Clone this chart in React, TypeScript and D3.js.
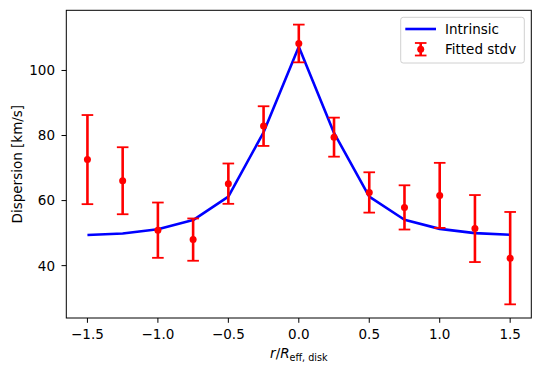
import React from 'react'
import * as d3 from 'd3'

// radius in units of the disk effective radius
const radii = [-1.5, -1.25, -1.0, -0.75, -0.5, -0.25, 0, 0.25, 0.5, 0.75, 1.0, 1.25, 1.5]
// intrinsic dispersion model [km/s]
const intrinsic = [49.4, 49.9, 51.2, 54.0, 61.2, 81.0, 107.3, 80.8, 61.2, 54.1, 51.3, 50.0, 49.5]
// fitted stdv and its error [km/s]
const fitted = [72.6, 66.1, 50.9, 48.0, 65.2, 82.9, 108.3, 79.5, 62.5, 57.9, 61.6, 51.4, 42.3]
const fittedErr = [13.7, 10.3, 8.5, 6.5, 6.2, 6.1, 5.8, 6.0, 6.2, 6.8, 10.0, 10.3, 14.2]

const xTicks = [-1.5, -1.0, -0.5, 0.0, 0.5, 1.0, 1.5]
const yTicks = [40, 60, 80, 100]

const W = 540, H = 374
const left = 66.3, right = 531.3, top = 10.3, bottom = 318
const font = 'DejaVu Sans, sans-serif'
const fs = 13.5

export default function App() {
    const x = d3.scaleLinear().domain([-1.65, 1.65]).range([left, right])
    const y = d3.scaleLinear().domain([23.9, 118.5]).range([bottom, top])

    const line = d3.line<number>()
        .x((d, i) => x(radii[i]))
        .y(d => y(d))

    const cap = 5.8
    const red = '#ff0000'
    const blue = '#0000ff'

    return <svg width={W} height={H} style={{position: 'absolute', left: 0, top: 0, background: '#fff'}} fontFamily={font}>
        <rect x={0} y={0} width={W} height={H} fill="#fff" />

        {/* data */}
        <path d={line(intrinsic) || ''} fill="none" stroke={blue} strokeWidth={2.6} strokeLinejoin="round" />
        <g>
            {fitted.map((v, i) => {
                const cx = x(radii[i])
                const y1 = y(v + fittedErr[i]), y2 = y(v - fittedErr[i])
                return <g key={i}>
                    <line x1={cx} x2={cx} y1={y1} y2={y2} stroke={red} strokeWidth={2.6} />
                    <line x1={cx - cap} x2={cx + cap} y1={y1} y2={y1} stroke={red} strokeWidth={1.8} />
                    <line x1={cx - cap} x2={cx + cap} y1={y2} y2={y2} stroke={red} strokeWidth={1.8} />
                    <circle cx={cx} cy={y(v)} r={3.5} fill={red} />
                </g>
            })}
        </g>

        {/* frame */}
        <rect x={left} y={top} width={right - left} height={bottom - top} fill="none" stroke="#000" strokeWidth={1} />

        {/* x axis */}
        <g>
            {xTicks.map(d => <g key={d}>
                <line x1={x(d)} x2={x(d)} y1={bottom} y2={bottom + 4.8} stroke="#000" strokeWidth={1} />
                <text x={x(d)} y={bottom + 20.5} fontSize={fs} textAnchor="middle" fill="#000">{d3.format('.1f')(d).replace('-', '\u2212')}</text>
            </g>)}
            <text x={x(0)} y={358.3} fontSize={fs} textAnchor="middle" fill="#000">
                <tspan fontStyle="italic">r</tspan>
                <tspan>/</tspan>
                <tspan fontStyle="italic">R</tspan>
                <tspan fontSize={9.6} dy={2.2}>eff, disk</tspan>
            </text>
        </g>

        {/* y axis */}
        <g>
            {yTicks.map(d => <g key={d}>
                <line x1={left - 4.8} x2={left} y1={y(d)} y2={y(d)} stroke="#000" strokeWidth={1} />
                <text x={left - 11.3} y={y(d) + 4.9} fontSize={fs} textAnchor="end" fill="#000">{d}</text>
            </g>)}
            <text transform={`translate(21.5, ${(top + bottom) / 2}) rotate(-90)`} fontSize={fs} textAnchor="middle" fill="#000">Dispersion [km/s]</text>
        </g>

        {/* legend */}
        <g>
            <rect x={400.7} y={17.3} width={123.6} height={45.7} rx={2.5} fill="#fff" fillOpacity={0.8} stroke="#d0d0d0" strokeWidth={1} />
            <line x1={405.3} x2={436} y1={29} y2={29} stroke={blue} strokeWidth={2.6} />
            <text x={445} y={33.9} fontSize={fs} fill="#000">Intrinsic</text>
            <line x1={420.7} x2={420.7} y1={43} y2={55.5} stroke={red} strokeWidth={2.6} />
            <line x1={420.7 - cap} x2={420.7 + cap} y1={43} y2={43} stroke={red} strokeWidth={1.8} />
            <line x1={420.7 - cap} x2={420.7 + cap} y1={55.5} y2={55.5} stroke={red} strokeWidth={1.8} />
            <circle cx={420.7} cy={49.2} r={3.5} fill={red} />
            <text x={445} y={53.9} fontSize={fs} fill="#000">Fitted stdv</text>
        </g>
    </svg>
}
